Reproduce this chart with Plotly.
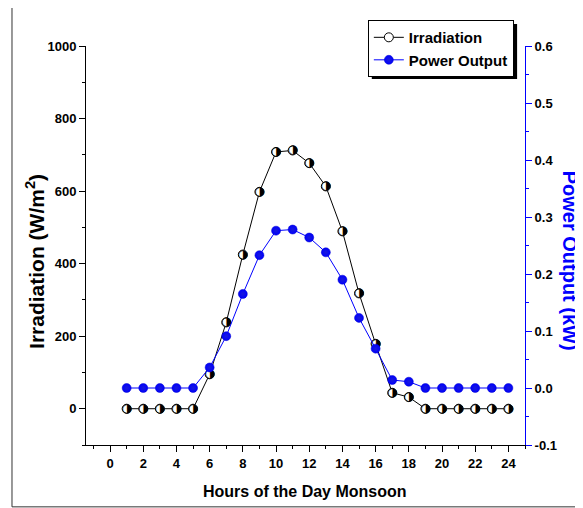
import plotly.graph_objects as go

hours = list(range(1, 25))
irradiation = [0, 0, 0, 0, 0, 95, 238, 425, 598, 708, 712, 677, 613, 489, 318,
               179, 44, 32, 0, 0, 0, 0, 0, 0]
power_output = [0, 0, 0, 0, 0, 0.036, 0.091, 0.165, 0.233, 0.276, 0.278, 0.264,
                0.238, 0.190, 0.123, 0.069, 0.014, 0.011, 0, 0, 0, 0, 0, 0]
x_ticks = list(range(0, 25, 2))
left_ticks = [0, 200, 400, 600, 800, 1000]
right_ticks = [-0.1, 0.0, 0.1, 0.2, 0.3, 0.4, 0.5, 0.6]

FONT = "Liberation Sans, Arial, sans-serif"

fig = go.Figure()
fig.add_trace(go.Scatter(
    x=hours, y=irradiation, name="Irradiation", mode="lines+markers",
    line=dict(color="black", width=1),
    marker=dict(size=9, color="white", symbol="circle",
                line=dict(color="black", width=1)),
))
# right-half-black circle glyphs drawn on top of the irradiation markers
fig.add_trace(go.Scatter(
    x=hours, y=irradiation, mode="text", text=["\u25D1"] * len(hours),
    textposition="middle center", showlegend=False, hoverinfo="skip",
    textfont=dict(family="DejaVu Sans", size=12, color="black"),
))
fig.add_trace(go.Scatter(
    x=hours, y=power_output, name="Power Output", mode="lines+markers",
    yaxis="y2",
    line=dict(color="#0000ff", width=1),
    marker=dict(size=9, color="#0000ff", symbol="circle",
                gradient=dict(type="radial", color="#1a1ad8"),
                line=dict(color="#0000cc", width=0.5)),
))

fig.update_layout(
    width=575, height=500,
    margin=dict(l=78, r=58, t=38, b=63, autoexpand=False),
    paper_bgcolor="white", plot_bgcolor="white",
    font=dict(family=FONT, size=13, color="black", weight="bold"),
    showlegend=True,
    legend=dict(x=0.642, y=1.065, xanchor="left", yanchor="top",
                bgcolor="white", bordercolor="black", borderwidth=1,
                font=dict(family=FONT, size=15, color="black", weight="bold"),
                itemwidth=30, tracegroupgap=0),
    xaxis=dict(range=[-1.45, 25.0], tickmode="array", tickvals=x_ticks,
               ticktext=[str(v) for v in x_ticks],
               showgrid=False, zeroline=False, showline=True, linecolor="black",
               linewidth=1, ticks="outside", ticklen=6, tickcolor="black",
               minor=dict(dtick=1, tick0=0, ticks="outside", ticklen=3,
                          tickcolor="black", showgrid=False),
               tickfont=dict(family=FONT, size=13, weight="bold")),
    yaxis=dict(range=[-100, 1000], tickmode="array", tickvals=left_ticks,
               ticktext=[str(v) for v in left_ticks],
               showgrid=False, zeroline=False, showline=True, linecolor="black",
               linewidth=1, ticks="outside", ticklen=6, tickcolor="black",
               minor=dict(dtick=100, tick0=0, ticks="outside", ticklen=3,
                          tickcolor="black", showgrid=False),
               tickfont=dict(family=FONT, size=13, weight="bold")),
    yaxis2=dict(range=[-0.1, 0.6], overlaying="y", side="right",
                tickmode="array", tickvals=right_ticks,
                ticktext=["%.1f" % v for v in right_ticks],
                showgrid=False, zeroline=False, showline=True, linecolor="#0000ff",
                linewidth=1, ticks="outside", ticklen=6, tickcolor="#0000ff",
                minor=dict(dtick=0.05, tick0=0, ticks="outside", ticklen=3,
                           tickcolor="#0000ff", showgrid=False),
                tickfont=dict(family=FONT, size=13, weight="bold", color="black")),
    shapes=[
        dict(type="rect", xref="paper", yref="paper",
             x0=-0.1686, x1=1.123, y0=-0.155, y1=1.0977,
             line=dict(color="#333333", width=1), fillcolor="rgba(0,0,0,0)",
             layer="below"),
        # legend drop shadow
        dict(type="rect", xref="paper", yref="paper",
             x0=0.651, x1=0.982, y0=0.917, y1=1.055,
             line=dict(width=0), fillcolor="black", layer="above"),
    ],
    annotations=[
        dict(text="Irradiation (W/m<sup>2</sup>)", xref="paper", yref="paper",
             x=-0.116, y=0.459, xanchor="center", yanchor="middle",
             textangle=-90, showarrow=False,
             font=dict(family=FONT, size=21, weight="bold", color="black")),
        dict(text="Power Output (kW)", xref="paper", yref="paper",
             x=1.1025, y=0.462, xanchor="center", yanchor="middle",
             textangle=90, showarrow=False,
             font=dict(family=FONT, size=20, weight="bold", color="#0000ff")),
        dict(text="Hours of the Day Monsoon", xref="paper", yref="paper",
             x=0.499, y=-0.1153, xanchor="center", yanchor="middle",
             showarrow=False,
             font=dict(family=FONT, size=16, weight="bold", color="black")),
    ],
)

fig.write_html("out.html")
